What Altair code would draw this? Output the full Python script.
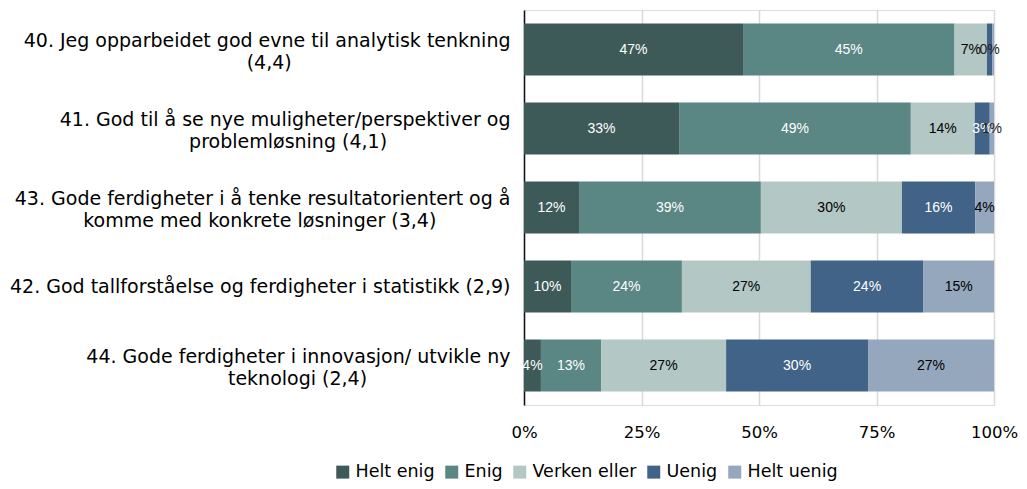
import altair as alt
import pandas as pd

items = [
    "40. Jeg opparbeidet god evne til analytisk tenkning|(4,4)",
    "41. God til å se nye muligheter/perspektiver og|problemløsning (4,1)",
    "43. Gode ferdigheter i å tenke resultatorientert og å|komme med konkrete løsninger (3,4)",
    "42. God tallforståelse og ferdigheter i statistikk (2,9)",
    "44. Gode ferdigheter i innovasjon/ utvikle ny|teknologi (2,4)",
]
series = ["Helt enig", "Enig", "Verken eller", "Uenig", "Helt uenig"]
colors = ["#3e5a58", "#5a8683", "#b3c7c5", "#426388", "#94a7bc"]
text_colors = ["white", "white", "black", "white", "black"]

helt_enig = [46.6, 33.0, 11.7, 10.0, 3.6]
enig = [45.0, 49.3, 38.7, 23.6, 12.8]
verken = [6.9, 13.6, 30.0, 27.4, 26.6]
uenig = [1.1, 3.2, 15.6, 24.0, 30.2]
helt_uenig = [0.4, 0.9, 4.0, 15.0, 26.8]

# printed data labels ("" = no label)
lbl_helt_enig = ["47%", "33%", "12%", "10%", "4%"]
lbl_enig = ["45%", "49%", "39%", "24%", "13%"]
lbl_verken = ["7%", "14%", "30%", "27%", "27%"]
lbl_uenig = ["0%", "3%", "16%", "24%", "30%"]
lbl_helt_uenig = ["", "1%", "4%", "15%", "27%"]

vals = [helt_enig, enig, verken, uenig, helt_uenig]
lbls = [lbl_helt_enig, lbl_enig, lbl_verken, lbl_uenig, lbl_helt_uenig]

rows = []
for si, s in enumerate(series):
    for ii, it in enumerate(items):
        tc = text_colors[si] if vals[si][ii] >= 2 else "#222"
        rows.append({"item": it, "series": s, "order": si, "value": vals[si][ii],
                     "label": lbls[si][ii], "tcol": tc})
df = pd.DataFrame(rows)

# second lines of wrapped category labels (centred under the first line)
wrap_rows = []
for it in items:
    if "|" in it:
        first, second = it.split("|")
        wrap_rows.append({"item": it, "first": first, "second": second})
wrap_df = pd.DataFrame(wrap_rows)

LABEL_FONT = "DejaVu Sans"
LABEL_SIZE = 19
LABEL_PAD = 14
AVG_CHAR = 0.497 * LABEL_SIZE  # approx. average glyph advance

base = alt.Chart(df).transform_stack(
    stack="value", groupby=["item"], as_=["x0", "x1"],
    sort=[alt.SortField("order", "ascending")], offset="normalize"
).transform_calculate(xm="(datum.x0 + datum.x1) / 2")

yenc = alt.Y("item:N", sort=items, title=None,
             scale=alt.Scale(paddingInner=0.34, paddingOuter=0.17),
             axis=alt.Axis(labelExpr="split(datum.label, '|')[0]", labelFont=LABEL_FONT,
                           labelFontSize=LABEL_SIZE, labelColor="#000", labelLimit=700,
                           labelPadding=LABEL_PAD, ticks=False,
                           labelOffset={"condition": {"test": "indexof(datum.value, '|') >= 0", "value": -9}, "value": 0},
                           domainColor="#111", domainWidth=1.5, labelAlign="right"))

bars = base.mark_bar(size=52).encode(
    x=alt.X("x0:Q", scale=alt.Scale(domain=[0, 1]), title=None,
            axis=alt.Axis(format="%", values=[0, 0.25, 0.5, 0.75, 1], labelFont="DejaVu Sans",
                          labelFontSize=16.5, labelColor="#000", ticks=False, domain=False,
                          labelFlush=False,
                          gridColor="#d9d9d9", gridWidth=1.5, labelPadding=19)),
    x2="x1:Q",
    y=yenc,
    color=alt.Color("series:N", sort=series,
                    scale=alt.Scale(domain=series, range=colors),
                    legend=alt.Legend(title=None, orient="none", direction="horizontal",
                                      legendX=-190, legendY=453,
                                      symbolType="square", symbolSize=169, symbolStrokeWidth=0,
                                      labelFont="DejaVu Sans", labelFontSize=17.5,
                                      labelColor="#000", columnPadding=8, labelOffset=4)),
    order=alt.Order("order:Q"),
)

texts = base.mark_text(font="Liberation Sans", fontSize=14).encode(
    x=alt.X("xm:Q"),
    y=alt.Y("item:N", sort=items),
    text="label:N",
    color=alt.Color("tcol:N", scale=None),
)

second_lines = alt.Chart(wrap_df).transform_calculate(
    px=f"-{LABEL_PAD} - length(datum.first) * {AVG_CHAR} / 2"
).mark_text(font=LABEL_FONT, fontSize=LABEL_SIZE, align="center", baseline="middle",
            dy=13, color="#000").encode(
    x=alt.X("px:Q", scale=None),
    y=alt.Y("item:N", sort=items),
    text="second:N",
)

chart = alt.layer(bars, texts, second_lines).properties(
    width=470, height=395,
    autosize=alt.AutoSizeParams(type="none"),
    padding={"left": 516, "top": 2, "right": 25, "bottom": 76},
).configure_view(stroke="#111", strokeWidth=1.2).configure(background="white")

chart.save("out.html", embed_options={"renderer": "svg", "actions": False})
